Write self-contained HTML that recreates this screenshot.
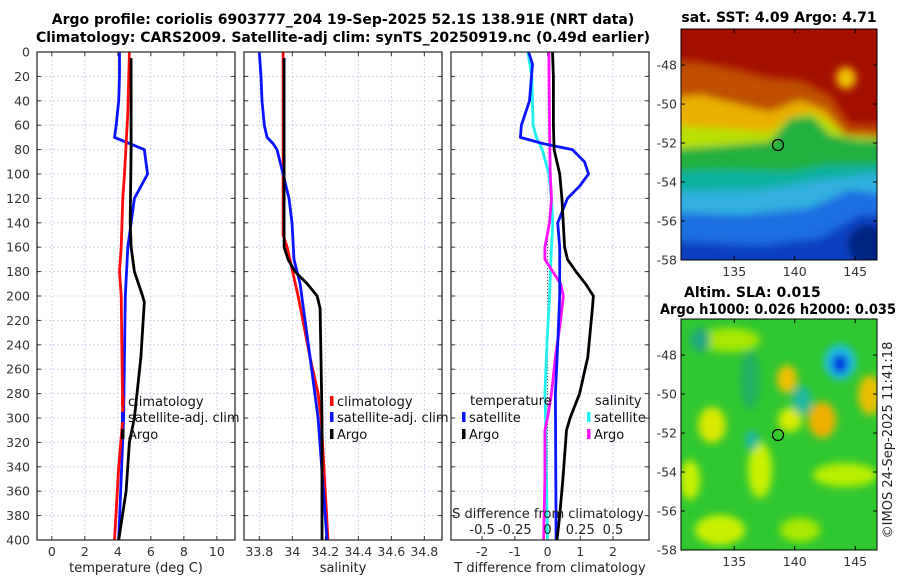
<!DOCTYPE html>
<html><head><meta charset="utf-8"><style>
html,body{margin:0;padding:0;background:#fff;}
svg{display:block;font-family:"DejaVu Sans","Liberation Sans",sans-serif;}
.tk{font-size:12.5px;fill:#333;}
.ttl{font-size:14px;font-weight:bold;fill:#000;}
.lab{font-size:13px;fill:#222;}
.lg{font-size:13px;fill:#111;}
</style></head><body>
<svg id="fig" width="900" height="580" viewBox="0 0 900 580" xmlns="http://www.w3.org/2000/svg">
<defs>
<filter id="bl" x="-10%" y="-10%" width="120%" height="120%"><feGaussianBlur stdDeviation="4"/></filter>
<clipPath id="c1"><rect x="681" y="29" width="196" height="231"/></clipPath>
<clipPath id="c2"><rect x="681" y="319" width="196" height="231"/></clipPath>
</defs>
<text class="ttl" x="343" y="24" text-anchor="middle">Argo profile: coriolis 6903777_204 19-Sep-2025 52.1S 138.91E (NRT data)</text>
<text class="ttl" x="343" y="42" text-anchor="middle">Climatology: CARS2009. Satellite-adj clim: synTS_20250919.nc (0.49d earlier)</text>
<g id="panels"></g>
<!-- SST map -->
<g>
<text class="ttl" x="779" y="22" text-anchor="middle">sat. SST: 4.09 Argo: 4.71</text>
<g clip-path="url(#c1)">
<rect x="681" y="29" width="196" height="231" fill="#a31000"/>
<g filter="url(#bl)">
<path d="M660 60 L700 62 L740 70 L770 78 L800 80 L830 95 L850 125 L890 125 L890 300 L660 300Z" fill="#c05000"/>
<path d="M660 100 L700 95 L740 105 L770 112 L800 100 L825 110 L845 135 L890 140 L890 300 L660 300Z" fill="#eab000"/>
<path d="M660 125 L720 128 L770 132 L790 118 L810 112 L830 122 L845 135 L890 138 L890 300 L660 300Z" fill="#b8e000"/>
<ellipse cx="846" cy="78" rx="10" ry="11" fill="#f0c000"/>
<path d="M660 150 L720 146 L770 142 L790 118 L812 116 L830 135 L860 140 L890 140 L890 300 L660 300Z" fill="#20b040"/>
<path d="M660 172 L720 170 L790 172 L830 165 L890 165 L890 300 L660 300Z" fill="#10b0a0"/>
<path d="M660 192 L760 190 L820 180 L890 172 L890 300 L660 300Z" fill="#30b0e0"/>
<path d="M660 212 L740 215 L810 208 L850 190 L890 195 L890 300 L660 300Z" fill="#1f70e0"/>
<path d="M660 240 L760 245 L820 238 L860 215 L890 215 L890 300 L660 300Z" fill="#1040c0"/>
<ellipse cx="868" cy="245" rx="20" ry="20" fill="#062080"/>
</g>
</g>
<rect x="681" y="29" width="196" height="231" fill="none" stroke="#000" stroke-width="1"/>
<circle cx="778" cy="145" r="5.5" fill="none" stroke="#000" stroke-width="1.2"/>
<g id="m1ticks"></g>
</g>
<!-- SLA map -->
<g>
<text class="ttl" x="684" y="297">Altim. SLA: 0.015</text>
<text class="ttl" x="660" y="314" textLength="236" lengthAdjust="spacingAndGlyphs">Argo h1000: 0.026 h2000: 0.035</text>
<g clip-path="url(#c2)">
<rect x="681" y="319" width="196" height="231" fill="#30c830"/>
<g filter="url(#bl)">
<ellipse cx="730" cy="340" rx="30" ry="12" fill="#a8e800"/>
<ellipse cx="787" cy="379" rx="10" ry="14" fill="#f0c000"/>
<ellipse cx="822" cy="420" rx="14" ry="18" fill="#f0b000"/>
<ellipse cx="870" cy="395" rx="12" ry="20" fill="#e8c000"/>
<ellipse cx="712" cy="425" rx="14" ry="18" fill="#d8e800"/>
<ellipse cx="760" cy="470" rx="12" ry="28" fill="#c8f000"/>
<ellipse cx="690" cy="480" rx="10" ry="20" fill="#c8f000"/>
<ellipse cx="845" cy="475" rx="32" ry="12" fill="#b8ee00"/>
<ellipse cx="720" cy="530" rx="25" ry="15" fill="#c8f000"/>
<ellipse cx="800" cy="530" rx="20" ry="12" fill="#a8e800"/>
<ellipse cx="790" cy="420" rx="12" ry="12" fill="#d8ec00"/>
<ellipse cx="802" cy="400" rx="10" ry="14" fill="#20b8a0"/>
<ellipse cx="700" cy="340" rx="10" ry="12" fill="#20a880"/>
<ellipse cx="752" cy="440" rx="7" ry="10" fill="#20b8a0"/>
<ellipse cx="750" cy="380" rx="10" ry="30" fill="#20b060"/>
<ellipse cx="840" cy="362" rx="16" ry="18" fill="#20c0e0"/>
<ellipse cx="840" cy="364" rx="8" ry="10" fill="#0030e0"/>
</g>
</g>
<rect x="681" y="319" width="196" height="231" fill="none" stroke="#000" stroke-width="1"/>
<circle cx="778" cy="435" r="5.5" fill="none" stroke="#000" stroke-width="1.2"/>
<g id="m2ticks"></g>
</g>
<text class="lab" transform="translate(892,440) rotate(-90)" text-anchor="middle">©IMOS 24-Sep-2025 11:41:18</text>
</svg>
<script>
// ---- data ----
const depthTicks = [0,20,40,60,80,100,120,140,160,180,200,220,240,260,280,300,320,340,360,380,400];
const tempTicks = [0,2,4,6,8,10];
const salTicks = [33.8,34,34.2,34.4,34.6,34.8];
const salTickLabels = ["33.8","34","34.2","34.4","34.6","34.8"];
const tdTicks = [-2,-1,0,1,2];
const sdTicks = [-0.5,-0.25,0,0.25,0.5];
const sdTickLabels = ["-0.5","-0.25","0","0.25","0.5"];
const latTicks = [-48,-50,-52,-54,-56,-58];
const lonTicks = [135,140,145];

const depthTempClim = [0,50,100,120,160,180,200,300,340,400];
const tempClim = [4.7,4.6,4.4,4.3,4.2,4.1,4.2,4.3,4.05,3.8];
const depthTempSat = [0,20,40,60,70,80,90,100,120,140,160,200,300,400];
const tempSat = [4.1,4.1,4.05,3.9,3.8,5.6,5.7,5.8,5.0,4.8,4.6,4.45,4.35,4.05];
const depthTempArgo = [5,80,140,160,180,200,205,250,300,320,360,400];
const tempArgo = [4.8,4.8,4.75,4.8,5.0,5.5,5.6,5.4,5.0,4.7,4.5,4.05];

const depthSalClim = [0,150,160,200,250,280,300,400];
const salClim = [33.944,33.944,33.968,34.035,34.107,34.156,34.174,34.216];
const depthSalSat = [0,20,40,60,70,75,80,100,120,140,170,190,250,300,400];
const salSat = [33.8,33.81,33.816,33.83,33.847,33.883,33.907,33.944,33.98,33.998,34.01,34.047,34.107,34.156,34.21];
const depthSalArgo = [5,150,160,170,180,190,200,210,300,320,400];
const salArgo = [33.95,33.95,33.95,33.974,34.016,34.09,34.15,34.168,34.18,34.18,34.18];

const depthTdSat = [0,10,40,60,70,75,80,90,100,110,120,140,160,200,240,280,400];
const tdSat = [-0.58,-0.46,-0.55,-0.8,-0.83,-0.15,0.76,1.13,1.25,0.98,0.61,0.31,0.37,0.37,0.31,0.24,0.26];
const depthTdArgo = [0,20,60,80,100,120,160,170,180,190,200,210,250,280,300,310,350,380,400];
const tdArgo = [0.15,0.18,0.18,0.2,0.37,0.44,0.52,0.61,0.87,1.16,1.4,1.37,1.23,0.98,0.69,0.58,0.47,0.37,0.29];
const depthSdSat = [0,20,60,70,80,100,120,140,160,200,240,280,300,340,400];
const sdSat = [-0.15,-0.12,-0.11,-0.085,-0.04,0.01,0.03,0.04,0.03,0.015,-0.005,-0.02,-0.015,-0.01,0];
const depthSdArgo = [0,60,100,120,140,160,170,180,190,200,220,250,280,300,310,350,400];
const sdArgo = [0.01,0.015,0.02,0.03,0.015,-0.02,-0.02,0.04,0.1,0.12,0.1,0.06,0.03,0,-0.02,-0.02,-0.03];

// ---- helpers ----
const NS = "http://www.w3.org/2000/svg";
const root = document.getElementById('panels');
function el(tag, attrs, parent, text){
  const e = document.createElementNS(NS, tag);
  for (const k in attrs) e.setAttribute(k, attrs[k]);
  if (text !== undefined) e.textContent = text;
  (parent||root).appendChild(e); return e;
}
const TOP = 52, BOT = 540;
function yD(d){ return TOP + (d/400)*(BOT-TOP); }
function lin(d0,d1,r0,r1){ return v => r0 + (v-d0)/(d1-d0)*(r1-r0); }

const panels = [
  {x0:37, x1:235, sx: lin(-0.9,11.1,37,235), ticks:tempTicks, labels:tempTicks.map(String), name:'temperature-panel', xlabel:'temperature (deg C)', ylabels:true},
  {x0:244, x1:442, sx: lin(33.707,34.907,244,442), ticks:salTicks, labels:salTickLabels, name:'salinity-panel', xlabel:'salinity'},
  {x0:451, x1:649, sx: lin(-2.95,3.1,451,649), ticks:tdTicks, labels:tdTicks.map(String), name:'difference-panel', xlabel:'T difference from climatology'}
];
const sS = v => panels[2].sx(v*4);

panels.forEach((p,i)=>{
  const g = el('g', {});
  
  
  depthTicks.forEach(d=>{
    const l = el('line',{x1:p.x0,x2:p.x1,y1:yD(d),y2:yD(d),stroke:'#c8cce8','stroke-width':0.8,'stroke-dasharray':'2,2'},g);
    
    
  });
  p.ticks.forEach((t,j)=>{
    const x = p.sx(t);
    const l = el('line',{x1:x,x2:x,y1:TOP,y2:BOT,stroke:'#c8cce8','stroke-width':0.8,'stroke-dasharray':'2,2'},g);
    
    
    el('line',{x1:x,x2:x,y1:BOT,y2:BOT-4,stroke:'#333'},g);
    el('line',{x1:x,x2:x,y1:TOP,y2:TOP+4,stroke:'#333'},g);
    const tx = el('text',{x:x,y:556,'text-anchor':'middle',class:'tk'},g,p.labels[j]);
    
    
  });
  depthTicks.forEach(d=>{
    el('line',{x1:p.x0,x2:p.x0+4,y1:yD(d),y2:yD(d),stroke:'#333'},g);
    el('line',{x1:p.x1,x2:p.x1-4,y1:yD(d),y2:yD(d),stroke:'#333'},g);
    if (p.ylabels){
      const tx = el('text',{x:30,y:yD(d)+4.5,'text-anchor':'end',class:'tk'},g,String(d));
      
      
    }
  });
  const lab = el('text',{x:(p.x0+p.x1)/2,y:572,'text-anchor':'middle',class:'lab'},g,p.xlabel);
  
  
  p.g = g;
});

function line(g, depths, vals, sx, color, name){
  const pts = depths.map((d,k)=> sx(vals[k]).toFixed(1)+','+yD(d).toFixed(1)).join(' ');
  const pl = el('polyline',{points:pts,fill:'none',stroke:color,'stroke-width':2.8,'stroke-linejoin':'round'},g);
  
  
}
const zl = el('line',{x1:panels[2].sx(0),x2:panels[2].sx(0),y1:yD(150),y2:BOT,stroke:'#555','stroke-width':1,'stroke-dasharray':'1,2'},panels[2].g);



line(panels[0].g, depthTempSat, tempSat, panels[0].sx, '#0a14ff', 'temp-satellite-line');
line(panels[0].g, depthTempClim, tempClim, panels[0].sx, '#ff0a0a', 'temp-climatology-line');
line(panels[0].g, depthTempArgo, tempArgo, panels[0].sx, '#000', 'temp-argo-line');
line(panels[1].g, depthSalClim, salClim, panels[1].sx, '#ff0a0a', 'sal-climatology-line');
line(panels[1].g, depthSalSat, salSat, panels[1].sx, '#0a14ff', 'sal-satellite-line');
line(panels[1].g, depthSalArgo, salArgo, panels[1].sx, '#000', 'sal-argo-line');
line(panels[2].g, depthSdSat, sdSat, sS, '#20f0f0', 'sdiff-satellite-line');
line(panels[2].g, depthSdArgo, sdArgo, sS, '#ff10ff', 'sdiff-argo-line');
line(panels[2].g, depthTdSat, tdSat, panels[2].sx, '#0a14ff', 'tdiff-satellite-line');
line(panels[2].g, depthTdArgo, tdArgo, panels[2].sx, '#000', 'tdiff-argo-line');

const sl = el('text',{x:548,y:518,'text-anchor':'middle',class:'lab'},panels[2].g,'S difference from climatology');


sdTicks.forEach((t,j)=>{
  const tx = el('text',{x:sS(t),y:534,'text-anchor':'middle',class:'lab'},panels[2].g,sdTickLabels[j]);
  
  
});

panels.forEach(p=>{
  el('rect',{x:p.x0,y:TOP,width:p.x1-p.x0,height:BOT-TOP,fill:'none',stroke:'#222','stroke-width':1.2},p.g);
});

function legend(g, x, y, color, text, name){
  el('rect',{x:x,y:y-10,width:3.5,height:10,fill:color},g);
  const t = el('text',{x:x+7,y:y,class:'lg'},g,text);
  
  
}
legend(panels[0].g,121,406,'#ff0a0a','climatology','legend-climatology');
legend(panels[0].g,121,422,'#0a14ff','satellite-adj. clim','legend-satellite-adj');
legend(panels[0].g,121,439,'#000','Argo','legend-argo');
legend(panels[1].g,330,406,'#ff0a0a','climatology','legend-climatology');
legend(panels[1].g,330,422,'#0a14ff','satellite-adj. clim','legend-satellite-adj');
legend(panels[1].g,330,439,'#000','Argo','legend-argo');
const tt = el('text',{x:470,y:405,class:'lg'},panels[2].g,'temperature');


legend(panels[2].g,462,422,'#0a14ff','satellite','legend-t-satellite');
legend(panels[2].g,462,439,'#000','Argo','legend-t-argo');
const st = el('text',{x:595,y:405,class:'lg'},panels[2].g,'salinity');


legend(panels[2].g,587,422,'#20f0f0','satellite','legend-s-satellite');
legend(panels[2].g,587,439,'#ff10ff','Argo','legend-s-argo');

function mapTicks(gid, top, bottom){
  const g = document.getElementById(gid);
  const ly = lin(-46.15,-58,top,bottom);
  const lx = lin(130.6,146.8,681,877);
  latTicks.forEach(t=>{
    const y = ly(t);
    el('line',{x1:681,x2:685,y1:y,y2:y,stroke:'#000'},g);
    el('line',{x1:877,x2:873,y1:y,y2:y,stroke:'#000'},g);
    const tx = el('text',{x:677,y:y+4.5,'text-anchor':'end',class:'tk'},g,String(t));
    
    
  });
  lonTicks.forEach(t=>{
    const x = lx(t);
    el('line',{x1:x,x2:x,y1:bottom,y2:bottom-4,stroke:'#000'},g);
    el('line',{x1:x,x2:x,y1:top,y2:top+4,stroke:'#000'},g);
    const tx = el('text',{x:x,y:bottom+16,'text-anchor':'middle',class:'tk'},g,String(t));
    
    
  });
}
mapTicks('m1ticks',29,260);
mapTicks('m2ticks',319,550);
</script>
</body></html>
